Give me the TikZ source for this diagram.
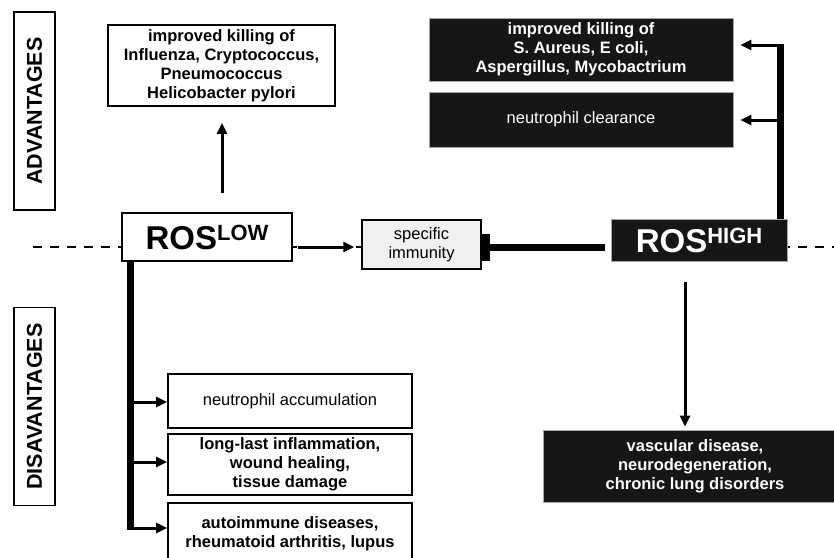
\documentclass[tikz,border=0pt]{standalone}
\usepackage{fontspec}
\setmainfont{Liberation Sans}
\usetikzlibrary{arrows.meta}
\definecolor{inkDark}{RGB}{22,22,22}
\newcommand{\rosLabel}[1]{\textbf{\fontsize{33}{36}\selectfont ROS\raisebox{9pt}{\fontsize{22}{24}\selectfont #1}}}

\begin{document}
\begin{tikzpicture}[x=1pt, y=-1pt,
    textStyle/.style={font=\fontsize{16.5}{19}\selectfont},
    boldStyle/.style={font=\fontsize{16.5}{19}\selectfont\bfseries},
    boxStyle/.style={rectangle, draw, line width=1.8pt, fill=white, inner sep=0pt, align=center, textStyle},
    darkStyle/.style={rectangle, draw=gray!70, line width=0.8pt, fill=inkDark, text=white, inner sep=0pt, align=center, textStyle},
    specStyle/.style={rectangle, draw, line width=1.5pt, fill=gray!12, inner sep=0pt, align=center, textStyle},
    sideStyle/.style={rectangle, draw, line width=1.8pt, rotate=90, minimum width=198pt, minimum height=41pt, inner sep=0pt, font=\fontsize{21.5}{24}\selectfont\bfseries},
    axisStyle/.style={line width=1.3pt, dash pattern=on 9pt off 8pt},
    trunkStyle/.style={line width=7pt, shorten >=-1.5pt},
    branchStyle/.style={line width=3pt, -{Triangle[length=11pt, width=10pt]}},
    inhibStyle/.style={line width=7pt, -{Rectangle[length=8pt, width=27pt]}}]
                    \useasboundingbox (0,0) rectangle (834,557);
                    \clip (0,0) rectangle (834,557);

                    \coordinate (axis_l) at (33, 247);
                    \coordinate (axis_r) at (834, 247);
                    \coordinate (low_up) at (222, 193);
                    \coordinate (low_b1) at (130, 402);
                    \coordinate (low_b2) at (130, 462);
                    \coordinate (low_b3) at (130, 528);
                    \coordinate (high_turn) at (780, 45);
                    \coordinate (high_b2) at (780, 120);
                    \coordinate (high_down) at (685, 282);

                    \draw[axisStyle] (axis_l) -- (axis_r);

                    \node[sideStyle] (adv_side) at (34.5, 111) {ADVANTAGES};
                    \node[sideStyle] (dis_side) at (34.5, 406.5) {DISAVANTAGES};

                    \node[boxStyle, boldStyle, minimum width=227pt, minimum height=81pt] (kill_low) at (221.5, 65.5) {improved killing of\\Influenza, Cryptococcus,\\Pneumococcus\\Helicobacter pylori};
                    \node[boxStyle, minimum width=170pt, minimum height=48pt] (ros_low) at (207, 237) {\rosLabel{LOW}};
                    \node[specStyle, minimum width=119pt, minimum height=49pt] (spec_imm) at (421.5, 244.5) {specific\\immunity};
                    \node[darkStyle, minimum width=176pt, minimum height=42pt] (ros_high) at (699, 240) {\rosLabel{HIGH}};

                    \node[darkStyle, boldStyle, minimum width=304pt, minimum height=63pt] (kill_high) at (581, 49.5) {improved killing of\\S. Aureus, E coli,\\Aspergillus, Mycobactrium};
                    \node[darkStyle, minimum width=304pt, minimum height=55pt] (clear_high) at (581, 119.5) {neutrophil clearance};
                    \node[darkStyle, boldStyle, minimum width=304pt, minimum height=72pt] (disease_high) at (695, 466) {vascular disease,\\neurodegeneration,\\chronic lung disorders};

                    \node[boxStyle, minimum width=244pt, minimum height=54pt] (accum_low) at (290, 401) {neutrophil accumulation};
                    \node[boxStyle, boldStyle, minimum width=244pt, minimum height=61pt] (inflam_low) at (290, 464.5) {long-last inflammation,\\wound healing,\\tissue damage};
                    \node[boxStyle, boldStyle, minimum width=244pt, minimum height=62pt] (auto_low) at (290, 534) {autoimmune diseases,\\rheumatoid arthritis, lupus};

                    \draw[branchStyle, shorten >=16pt] (low_up) -- (kill_low.south -| low_up);
                    \draw[branchStyle, shorten <=5pt, shorten >=7pt] (ros_low.east |- axis_l) -- (spec_imm.west |- axis_l);
                    \draw[inhibStyle, shorten <=6pt] (ros_high.west |- axis_l) -- (spec_imm.east |- axis_l);

                    \draw[trunkStyle] (ros_low.south -| low_b3) -- (low_b3);
                    \draw[branchStyle] (low_b1) -- (accum_low.west |- low_b1);
                    \draw[branchStyle] (low_b2) -- (inflam_low.west |- low_b2);
                    \draw[branchStyle] (low_b3) -- (auto_low.west |- low_b3);

                    \draw[trunkStyle] (ros_high.north -| high_turn) -- (high_turn);
                    \draw[branchStyle, shorten >=7pt] (high_turn) -- (kill_high.east |- high_turn);
                    \draw[branchStyle, shorten >=7pt] (high_b2) -- (clear_high.east |- high_b2);
                    \draw[branchStyle, shorten >=3pt] (high_down) -- (disease_high.north -| high_down);
                \end{tikzpicture}
\end{document}
